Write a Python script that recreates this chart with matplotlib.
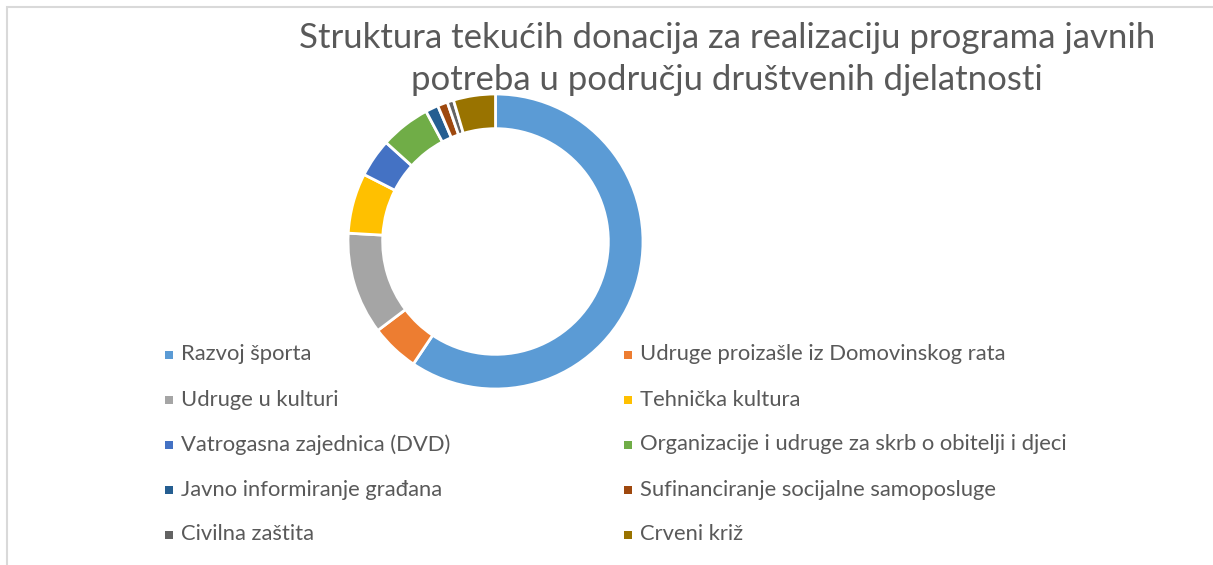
import matplotlib
matplotlib.use("Agg")
import matplotlib.pyplot as plt
from matplotlib.patches import Rectangle

categories = [
    "Razvoj športa",
    "Udruge proizašle iz Domovinskog rata",
    "Udruge u kulturi",
    "Tehnička kultura",
    "Vatrogasna zajednica (DVD)",
    "Organizacije i udruge za skrb o obitelji i djeci",
    "Javno informiranje građana",
    "Sufinanciranje socijalne samoposluge",
    "Civilna zaštita",
    "Crveni križ",
]
values = [59.4, 5.3, 11.2, 6.6, 4.2, 5.5, 1.4, 1.1, 0.7, 4.6]
colors = ["#5B9BD5", "#ED7D31", "#A5A5A5", "#FFC000", "#4472C4",
          "#70AD47", "#255E91", "#9E480E", "#636363", "#997300"]
title = "Struktura tekućih donacija za realizaciju programa javnih\npotreba u području društvenih djelatnosti"

W, H = 1213, 565
fig = plt.figure(figsize=(W / 100, H / 100), dpi=100)
fig.patch.set_facecolor("white")

# frame border
fig.patches.append(Rectangle((7 / W, -0.1), 1.2, (H - 7) / H + 0.1, transform=fig.transFigure,
                             fill=False, edgecolor="#D9D9D9", linewidth=1.5))

cx, cy, r = 495.5, 241.5, 147.5
ax = fig.add_axes([(cx - r) / W, (H - cy - r) / H, 2 * r / W, 2 * r / H])
ax.pie(values, colors=colors, startangle=90, counterclock=False, radius=1.0,
       wedgeprops=dict(width=0.235, edgecolor="white", linewidth=2.0))
ax.set_xlim(-1, 1)
ax.set_ylim(-1, 1)
ax.set_aspect("equal")
ax.axis("off")

fig.text(727 / W, 1 - 59 / H, title, ha="center", va="center", fontsize=25,
         color="#595959", family="Lato", linespacing=1.4)

col_x = [165, 624]
row_y0, row_dy = 354.5, 45
for i, (lab, c) in enumerate(zip(categories, colors)):
    col, row = i % 2, i // 2
    x = col_x[col]
    y = row_y0 + row * row_dy
    fig.patches.append(Rectangle((x / W, 1 - (y + 4) / H), 8 / W, 8 / H,
                                 transform=fig.transFigure, facecolor=c, edgecolor="none"))
    fig.text((x + 16) / W, 1 - y / H, lab, ha="left", va="center", fontsize=15.8,
             color="#595959", family="Lato")

fig.savefig("out.png", dpi=100, facecolor="white")
